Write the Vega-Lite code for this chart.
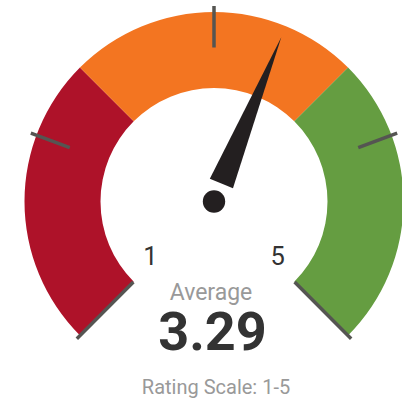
{
  "$schema": "https://vega.github.io/schema/vega-lite/v6.json",
  "width": 376,
  "height": 403,
  "autosize": "none",
  "padding": {"left": 26, "top": 0, "right": 0, "bottom": 1},
  "background": "white",
  "config": {"view": {"stroke": null}, "font": "Roboto"},
  "datasets": {
    "bands": [
      {"band": "low", "start": 1, "end": 2.333},
      {"band": "mid", "start": 2.333, "end": 3.667},
      {"band": "high", "start": 3.667, "end": 5}
    ],
    "ticks": [
      {"v": 1, "kind": "end"},
      {"v": 1.97, "kind": "mid"},
      {"v": 3, "kind": "mid"},
      {"v": 4.03, "kind": "mid"},
      {"v": 5, "kind": "end"}
    ],
    "scaleLabels": [
      {"v": 1, "label": "1"},
      {"v": 5, "label": "5"}
    ],
    "summary": [
      {"needle": 3.33, "average": "3.29", "caption": "Average", "scale": "Rating Scale: 1-5"}
    ]
  },
  "layer": [
    {
      "data": {"name": "bands"},
      "mark": {"type": "arc", "innerRadius": 113.5, "outerRadius": 189.5},
      "encoding": {
        "theta": {"field": "start", "type": "quantitative", "stack": null, "scale": {"domain": [1, 5], "range": [-2.35619449, 2.35619449]}},
        "theta2": {"field": "end"},
        "color": {"field": "band", "type": "nominal", "legend": null, "scale": {"domain": ["low", "mid", "high"], "range": ["#ae1229", "#f37521", "#659d41"]}}
      }
    },
    {
      "data": {"name": "ticks"},
      "transform": [{"filter": "datum.kind === 'mid'"}],
      "mark": {"type": "arc", "innerRadius": 154, "outerRadius": 195.5, "filled": false, "stroke": "#555552", "strokeWidth": 3.5, "strokeJoin": "bevel"},
      "encoding": {
        "theta": {"field": "v", "type": "quantitative", "stack": null, "scale": {"domain": [1, 5], "range": [-2.35619449, 2.35619449]}},
        "theta2": {"field": "v"}
      }
    },
    {
      "data": {"name": "ticks"},
      "transform": [{"filter": "datum.kind === 'end'"}],
      "mark": {"type": "arc", "innerRadius": 114, "outerRadius": 194, "filled": false, "stroke": "#555552", "strokeWidth": 3.5, "strokeJoin": "bevel"},
      "encoding": {
        "theta": {"field": "v", "type": "quantitative", "stack": null, "scale": {"domain": [1, 5], "range": [-2.35619449, 2.35619449]}},
        "theta2": {"field": "v"}
      }
    },
    {
      "data": {"name": "summary"},
      "mark": {"type": "point", "shape": "M-12.5,-19.5L0,-177.5L12.5,-19.5Z", "size": 4, "filled": true, "color": "#231f20", "opacity": 1, "strokeWidth": 0},
      "encoding": {
        "angle": {"field": "needle", "type": "quantitative", "scale": {"domain": [1, 5], "range": [-135, 135]}}
      }
    },
    {
      "data": {"name": "summary"},
      "mark": {"type": "circle", "size": 500, "color": "#231f20", "opacity": 1},
      "encoding": {}
    },
    {
      "data": {"name": "scaleLabels"},
      "mark": {"type": "text", "radius": 90, "fontSize": 25.5, "color": "#333333", "baseline": "alphabetic", "align": "center"},
      "encoding": {
        "theta": {"field": "v", "type": "quantitative", "stack": null, "scale": {"domain": [1, 5], "range": [-2.35619449, 2.35619449]}},
        "text": {"field": "label"}
      }
    },
    {
      "data": {"name": "summary"},
      "mark": {"type": "text", "fontSize": 23, "color": "#999999", "baseline": "alphabetic", "align": "center", "dy": 98.5, "dx": -3},
      "encoding": {"text": {"field": "caption"}}
    },
    {
      "data": {"name": "summary"},
      "mark": {"type": "text", "fontSize": 54, "fontWeight": "bold", "color": "#333333", "baseline": "alphabetic", "align": "center", "dy": 148.5, "dx": -1.5},
      "encoding": {"text": {"field": "average"}}
    },
    {
      "data": {"name": "summary"},
      "mark": {"type": "text", "fontSize": 20, "color": "#999999", "baseline": "alphabetic", "align": "center", "dy": 192.5, "dx": 2},
      "encoding": {"text": {"field": "scale"}}
    }
  ]
}
